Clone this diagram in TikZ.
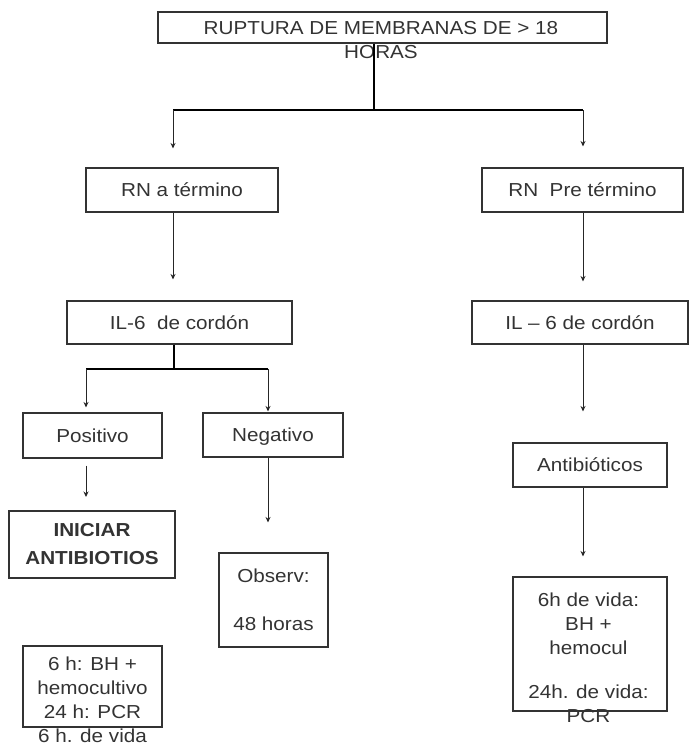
\documentclass[tikz,border=0pt]{standalone}
\usepackage{fontspec}
\setmainfont[FakeStretch=1.1]{Liberation Sans}
\usetikzlibrary{arrows.meta}

\begin{document}
\begin{tikzpicture}[
            x = 1pt, y = -1pt, % pixel grid, y going down
            every node/.style = {text=black!80, font=\fontsize{18.8}{24}\selectfont},
            box/.style = {shape=rectangle, draw=black!80, line width=1.1pt, inner sep=0pt},
            row/.style = {box, text height=13.5pt, text depth=0.5pt}, % one line of text
            txt/.style = {align=center, inner sep=0pt},
            link/.style = {-{Stealth[length=5.5pt,width=5pt]}, line width=0.8pt, draw=black!85},
            branch/.style = {line width=2.4pt, draw=black}
        ]
\useasboundingbox (0,0) rectangle (689,745);

\node[box, minimum width=449, minimum height=31] (top) at (382.5,27.5) {};
\node[txt] (toptext) at (381,40) {RUPTURA DE MEMBRANAS DE > 18\\HORAS};

\node[row, minimum width=192, minimum height=44] (RNT) at (182,190) {RN a término};
\node[row, minimum width=201, minimum height=44] (RNP) at (582.5,190) {RN\ \ Pre término};
\node[row, minimum width=225, minimum height=43] (ILT) at (179.5,322.5) {IL-6\ \ de cordón};
\node[row, minimum width=216, minimum height=43] (ILP) at (580,322.5) {IL -- 6 de cordón};
\node[row, minimum width=139, minimum height=45] (POS) at (92.5,435.5) {Positivo};
\node[row, minimum width=140, minimum height=44] (NEG) at (273,435) {Negativo};
\node[box, minimum width=166, minimum height=67, line width=2pt, align=center,
      font=\fontsize{18.8}{28}\selectfont\bfseries] (INI) at (92,544.5) {INICIAR\\ANTIBIOTIOS};
\node[box, minimum width=109, minimum height=94, align=center] (OBS) at (273.5,600) {Observ:\\[24pt]48 horas};
\node[row, minimum width=154, minimum height=44] (ANT) at (590,465) {Antibióticos};

\node[box, minimum width=139, minimum height=81] (LAB) at (92.5,686.5) {};
\node[txt] (labtext) at (92.5,699.5) {6 h: BH +\\hemocultivo\\24 h: PCR\\6 h. de vida};
\node[box, minimum width=154, minimum height=134] (VIDA) at (590,644) {};
\node[txt] (vidatext) at (588.5,657.5) {6h de vida:\\BH +\\hemocul\\[20pt]24h. de vida:\\PCR};

\coordinate (jt) at (374,110);
\coordinate (jl) at (173,110);
\coordinate (jr) at (583,110);
\coordinate (kt) at (174,369);
\coordinate (kl) at (86,369);
\coordinate (kr) at (268,369);

 \draw[branch] (jt |- top.south) -- (jt);
 \draw[branch] (jl) -- (jr);
 \draw[link, shorten >=19pt] (jl) -- (jl |- RNT.north);
 \draw[link, shorten >=21pt] (jr) -- (jr |- RNP.north);
 \draw[link, shorten >=21pt] (jl |- RNT.south) -- (jl |- ILT.north);
 \draw[link, shorten >=19pt] (jr |- RNP.south) -- (jr |- ILP.north);
 \draw[branch] (kt |- ILT.south) -- (kt);
 \draw[branch] (kl) -- (kr);
 \draw[link, shorten >=5pt] (kl) -- (kl |- POS.north);
 \draw[link, shorten >=1pt] (kr) -- (kr |- NEG.north);
 \draw[link, shorten <=7pt, shorten >=13pt] (kl |- POS.south) -- (kl |- INI.north);
 \draw[link, shorten >=30pt] (kr |- NEG.south) -- (kr |- OBS.north);
 \draw[link, shorten >=31pt] (jr |- ILP.south) -- (jr |- ANT.north);
 \draw[link, shorten >=20pt] (jr |- ANT.south) -- (jr |- VIDA.north);
\end{tikzpicture}
\end{document}
